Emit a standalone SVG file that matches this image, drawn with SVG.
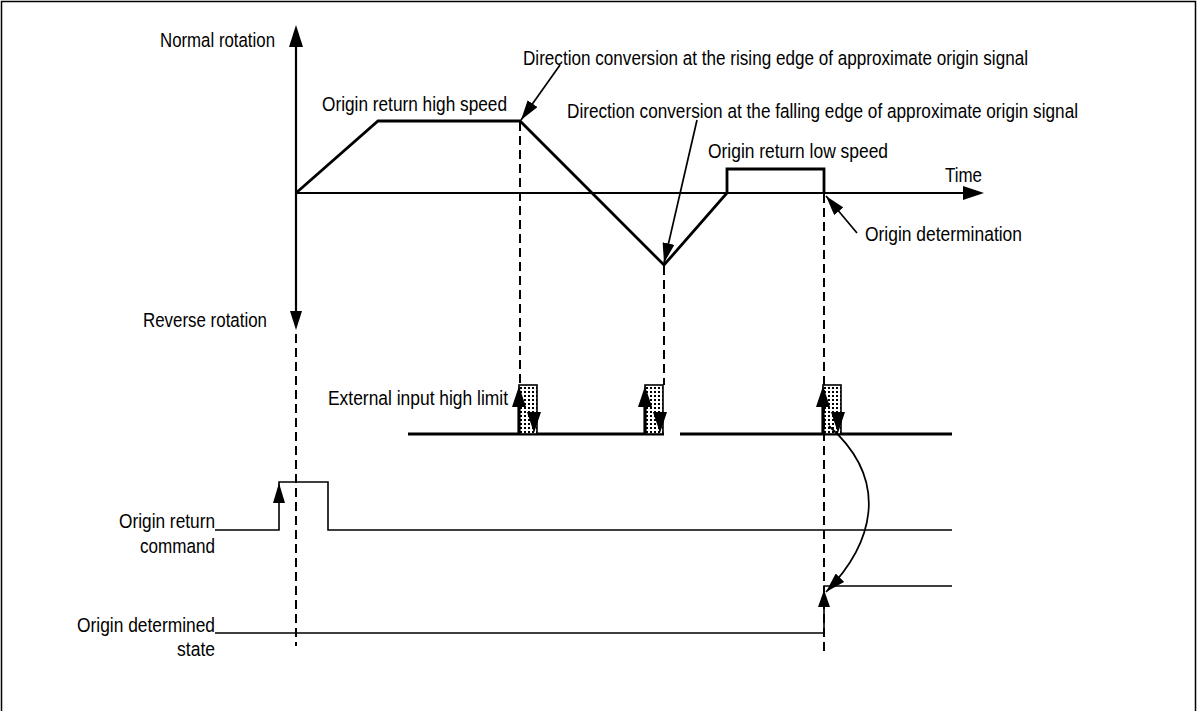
<svg xmlns="http://www.w3.org/2000/svg" width="1197" height="711" viewBox="0 0 1197 711">
<style>
text{font-family:"Liberation Sans Narrow","Liberation Sans",Arial,sans-serif;font-size:20.5px;fill:#000}
.end{text-anchor:end}
.prof{fill:none;stroke:#000;stroke-width:2.8;stroke-linejoin:miter}
.axis{fill:none;stroke:#000;stroke-width:2.2}
.sig{fill:none;stroke:#000;stroke-width:1.6}
.lim{fill:none;stroke:#000;stroke-width:2.8}
.dash{fill:none;stroke:#000;stroke-width:2;stroke-dasharray:9,5}
.call{fill:none;stroke:#000;stroke-width:1.7;marker-end:url(#ah)}
.ah{fill:#000}
</style>
<defs>
<marker id="ah" viewBox="0 0 20 12" refX="20" refY="6" markerWidth="20" markerHeight="12" markerUnits="userSpaceOnUse" orient="auto">
<path d="M0,0 L20,6 L0,12 z" fill="#000"/>
</marker>
<pattern id="dots" width="4" height="4" patternUnits="userSpaceOnUse">
<rect width="4" height="4" fill="#fff"/>
<rect x="1" y="1" width="2" height="2" fill="#000"/>
</pattern>
<g id="limitMark">
<rect x="0" y="-49" width="18" height="49" fill="url(#dots)" stroke="#000" stroke-width="1.6"/>
<line x1="0" y1="-30" x2="0" y2="0" stroke="#000" stroke-width="3.2"/>
<polygon points="0,-48 -7,-27 7,-27" fill="#000"/>
<polygon points="15,-1 8,-22 22,-22" fill="#000"/>
</g>
</defs>
<rect x="1.5" y="1.5" width="1194" height="720" fill="none" stroke="#000" stroke-width="1.5"/>

<g id="axes">
<path class="axis" d="M296,45 L296,312"/>
<polygon class="ah" points="296,25 289,47 303,47"/>
<polygon class="ah" points="296,330 290,311 302,311"/>
<path class="axis" d="M296,193 L966,193"/>
<polygon class="ah" points="984,193 963,186 963,200"/>
<text x="160" y="47" textLength="115" lengthAdjust="spacingAndGlyphs">Normal rotation</text>
<text x="143" y="327" textLength="124" lengthAdjust="spacingAndGlyphs">Reverse rotation</text>
<text x="945" y="182" textLength="37" lengthAdjust="spacingAndGlyphs">Time</text>
</g>

<g id="speed-profile">
<path class="prof" d="M296,193 L378,121 L520,121 L664,265 L727,193 L727,169 L824,169 L824,193"/>
<text x="322" y="111" textLength="185" lengthAdjust="spacingAndGlyphs">Origin return high speed</text>
<text x="708" y="158" textLength="180" lengthAdjust="spacingAndGlyphs">Origin return low speed</text>
</g>

<g id="label-rising">
<text x="523" y="65" textLength="505" lengthAdjust="spacingAndGlyphs">Direction conversion at the rising edge of approximate origin signal</text>
</g>
<g id="label-falling">
<text x="567" y="118" textLength="511" lengthAdjust="spacingAndGlyphs">Direction conversion at the falling edge of approximate origin signal</text>
</g>
<g id="label-determination">
<text x="865" y="241" textLength="157" lengthAdjust="spacingAndGlyphs">Origin determination</text>
</g>

<g id="high-limit">
<text x="328" y="405" textLength="180" lengthAdjust="spacingAndGlyphs">External input high limit</text>
<path class="lim" d="M408,434 L664,434 M680,434 L952,434"/>
<use href="#limitMark" x="519" y="434"/>
<use href="#limitMark" x="645" y="434"/>
<use href="#limitMark" x="823" y="434"/>
</g>

<g id="origin-return-command">
<text class="end" x="215" y="528" textLength="96" lengthAdjust="spacingAndGlyphs">Origin return</text>
<text class="end" x="215" y="553" textLength="75" lengthAdjust="spacingAndGlyphs">command</text>
<path class="sig" d="M215,530 L279,530 L279,482 L328,482 L328,530 L952,530"/>
<polygon class="ah" points="279,483 273,503 285,503"/>
</g>

<g id="origin-determined-state">
<text class="end" x="215" y="632" textLength="138" lengthAdjust="spacingAndGlyphs">Origin determined</text>
<text class="end" x="215" y="656" textLength="38" lengthAdjust="spacingAndGlyphs">state</text>
<path class="sig" d="M215,633 L824,633 L824,586 L952,586"/>
<polygon class="ah" points="824,590 818,607 830,607"/>
</g>

<g id="connectors">
<path class="dash" d="M520,122 L520,385"/>
<path class="dash" d="M664,266 L664,385"/>
<path class="dash" d="M824,194 L824,656"/>
<path class="dash" d="M296,334 L296,646"/>
<path class="call" d="M560,65 L521,120"/>
<path class="call" d="M697,120 L664,263"/>
<path class="call" d="M857,233 L826,196"/>
<path class="call" d="M829,426 C892,482 872,545 826,592"/>
</g>
</svg>
